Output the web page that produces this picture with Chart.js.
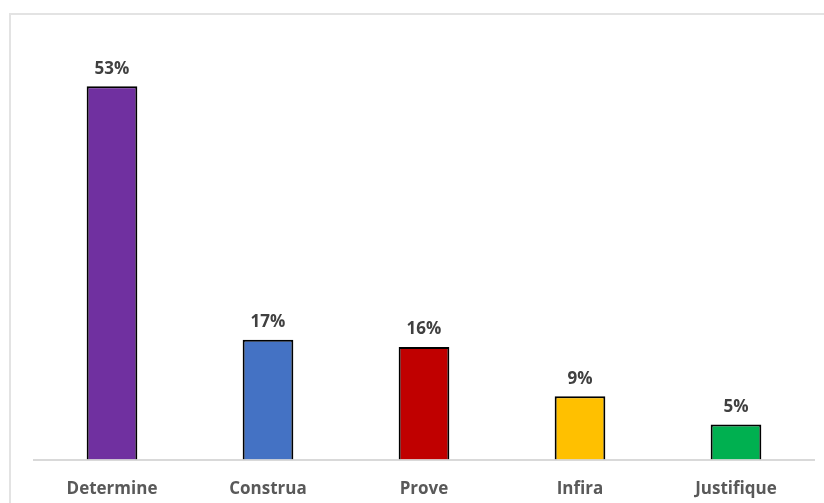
<!DOCTYPE html>
<html lang="pt">
<head>
    <meta charset="UTF-8">
    <title>Verbos de comando</title>
    <script src="https://cdn.jsdelivr.net/npm/chart.js@4"></script>
    <style>
        body { margin: 0; background: #fff; }
        .wrap { position: relative; width: 824px; height: 503px; overflow: hidden; }
        /* moldura cinza clara do gráfico */
        .frame { position: absolute; left: 9px; top: 13px; width: 830px; height: 520px;
                 border-top: 2px solid #e3e3e3; border-left: 2px solid #e3e3e3; box-sizing: border-box; }
        canvas { position: absolute; left: 0; top: 0; }
    </style>
</head>
<body>
<div class="wrap">
    <div class="frame"></div>
    <canvas id="grafico" width="824" height="514"></canvas>
</div>
<script>
    const categorias = ['Determine', 'Construa', 'Prove', 'Infira', 'Justifique'];
    const percentuais = [53, 17, 16, 9, 5];
    const cores = ['#7030a0', '#4472c4', '#c00000', '#ffc000', '#00b050'];

    // escreve o valor em % em cima de cada barra
    const rotulosValor = {
        id: 'rotulosValor',
        afterDatasetsDraw(chart) {
            const ctx = chart.ctx;
            const meta = chart.getDatasetMeta(0);
            ctx.save();
            ctx.font = 'bold 17px "Open Sans"';
            ctx.fillStyle = '#404040';
            ctx.textAlign = 'center';
            ctx.textBaseline = 'bottom';
            meta.data.forEach((bar, i) => {
                ctx.fillText(percentuais[i] + '%', bar.x, bar.y - 9);
            });
            ctx.restore();
        }
    };

    new Chart(document.getElementById('grafico'), {
        type: 'bar',
        data: {
            labels: categorias,
            datasets: [{
                data: percentuais,
                backgroundColor: cores,
                borderColor: '#000',
                borderWidth: 2,
                borderSkipped: 'bottom',
                barPercentage: 0.65,
                categoryPercentage: 0.5
            }]
        },
        options: {
            responsive: false,
            animation: false,
            layout: { padding: { left: 34, right: 10, top: 37, bottom: 4 } },
            plugins: { legend: { display: false }, tooltip: { enabled: false } },
            scales: {
                x: {
                    grid: { display: false },
                    border: { display: true, color: '#d9d9d9', width: 2 },
                    ticks: {
                        color: '#595959',
                        padding: 11,
                        font: { family: 'Open Sans', size: 17, weight: 'bold' }
                    }
                },
                y: {
                    display: false,
                    min: 0,
                    max: 60
                }
            }
        },
        plugins: [rotulosValor]
    });
</script>
</body>
</html>
